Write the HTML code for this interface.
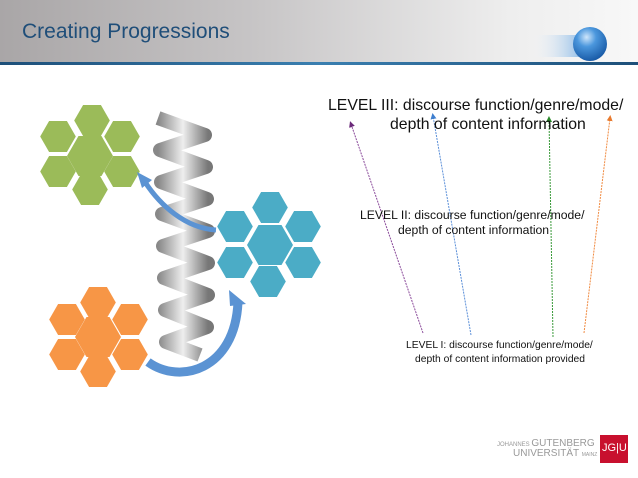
<!DOCTYPE html>
<html><head><meta charset="utf-8"><style>
body{margin:0;width:638px;height:478px;overflow:hidden;background:#fff;font-family:"Liberation Sans",sans-serif;position:relative}
.t{position:absolute;white-space:nowrap;color:#111}
</style></head><body>
<svg width="638" height="478" style="position:absolute;left:0;top:0">
<defs>
<linearGradient id="hd" x1="0" x2="1"><stop offset="0" stop-color="#a9a6a7"/><stop offset="0.4" stop-color="#c7c5c6"/><stop offset="0.8" stop-color="#eeeeee"/><stop offset="1" stop-color="#f8f8f8"/></linearGradient>
<linearGradient id="ln" x1="0" x2="1"><stop offset="0" stop-color="#1d4f79"/><stop offset="0.5" stop-color="#3a7fb0"/><stop offset="1" stop-color="#1d4f79"/></linearGradient>
<radialGradient id="sp" cx="0.4" cy="0.3" r="0.7"><stop offset="0" stop-color="#cfe6fb"/><stop offset="0.4" stop-color="#4b97dd"/><stop offset="1" stop-color="#1a5ca8"/></radialGradient>
<linearGradient id="bl" x1="0" x2="1"><stop offset="0" stop-color="#fff" stop-opacity="0"/><stop offset="1" stop-color="#4a95dd"/></linearGradient>
<linearGradient id="sg" x1="0" x2="1"><stop offset="0" stop-color="#888"/><stop offset="0.5" stop-color="#eee"/><stop offset="1" stop-color="#777"/></linearGradient>
<marker id="m1" markerWidth="6" markerHeight="6" refX="3" refY="3" orient="auto"><path d="M0,0L6,3L0,6z" fill="#6b2a7a"/></marker>
<marker id="m2" markerWidth="6" markerHeight="6" refX="3" refY="3" orient="auto"><path d="M0,0L6,3L0,6z" fill="#3f7fcf"/></marker>
<marker id="m3" markerWidth="6" markerHeight="6" refX="3" refY="3" orient="auto"><path d="M0,0L6,3L0,6z" fill="#2b8a2b"/></marker>
<marker id="m4" markerWidth="6" markerHeight="6" refX="3" refY="3" orient="auto"><path d="M0,0L6,3L0,6z" fill="#e87a2e"/></marker>
<symbol id="h" viewBox="-1 -0.87 2 1.74"><polygon points="-1,0 -0.5,-0.87 0.5,-0.87 1,0 0.5,0.87 -0.5,0.87"/></symbol>
</defs>
<rect x="0" y="0" width="638" height="62" fill="url(#hd)"/>
<rect x="0" y="62" width="638" height="3" fill="url(#ln)"/>
<rect x="530" y="35" width="60" height="22" fill="url(#bl)" opacity="0.8"/>
<circle cx="590" cy="44" r="17" fill="url(#sp)"/>
<path d="M158,118 L205,135 L160,150 L206,167 L161,182 L207,199 L162,214 L208,231 L163,246 L208,263 L164,278 L208,295 L165,310 L207,327 L166,342 L200,355" fill="none" stroke="url(#sg)" stroke-width="14" stroke-linejoin="round"/>
<g fill="#9bbb59">
<use href="#h" x="67" y="136" width="46" height="40"/>
<use href="#h" x="74" y="105" width="36" height="31"/><use href="#h" x="104" y="121" width="36" height="31"/><use href="#h" x="104" y="156" width="36" height="31"/><use href="#h" x="72" y="174" width="36" height="31"/><use href="#h" x="40" y="156" width="36" height="31"/><use href="#h" x="40" y="121" width="36" height="31"/>
</g>
<g fill="#4bacc6">
<use href="#h" x="247" y="225" width="46" height="40"/>
<use href="#h" x="252" y="192" width="36" height="31"/><use href="#h" x="285" y="211" width="36" height="31"/><use href="#h" x="285" y="247" width="36" height="31"/><use href="#h" x="250" y="266" width="36" height="31"/><use href="#h" x="217" y="247" width="36" height="31"/><use href="#h" x="217" y="211" width="36" height="31"/>
</g>
<g fill="#f79646">
<use href="#h" x="75" y="317" width="46" height="40"/>
<use href="#h" x="80" y="287" width="36" height="31"/><use href="#h" x="112" y="304" width="36" height="31"/><use href="#h" x="112" y="339" width="36" height="31"/><use href="#h" x="80" y="356" width="36" height="31"/><use href="#h" x="49" y="339" width="36" height="31"/><use href="#h" x="49" y="304" width="36" height="31"/>
</g>
<path d="M148,362 C180,385 235,370 238,302" fill="none" stroke="#5b93d3" stroke-width="9"/>
<path d="M229,290 L246,304 L230,306z" fill="#5b93d3"/>
<path d="M216,230 C185,228 160,205 145,182" fill="none" stroke="#5b93d3" stroke-width="5"/>
<path d="M137,172 L152,180 L142,188z" fill="#5b93d3"/>
<line x1="423" y1="333" x2="351" y2="124" stroke="#8a4a9a" stroke-width="1" stroke-dasharray="2,1" marker-end="url(#m1)"/>
<line x1="471" y1="335" x2="433" y2="116" stroke="#5b8fd8" stroke-width="1" stroke-dasharray="2,1" marker-end="url(#m2)"/>
<line x1="553" y1="337" x2="549" y2="119" stroke="#3a9a3a" stroke-width="1" stroke-dasharray="2,1" marker-end="url(#m3)"/>
<line x1="584" y1="333" x2="610" y2="118" stroke="#f08a40" stroke-width="1" stroke-dasharray="2,1" marker-end="url(#m4)"/>
<rect x="600" y="435" width="28" height="28" fill="#c8102e"/>
</svg>
<div class="t" style="left:22px;top:20px;font-size:21px;color:#1f4e79">Creating Progressions</div>
<div class="t" style="left:328px;top:97px;font-size:15.8px;">LEVEL III: discourse function/genre/mode/</div>
<div class="t" style="left:390px;top:116px;font-size:15.8px;">depth of content information</div>
<div class="t" style="left:360px;top:208px;font-size:12.2px;">LEVEL II: discourse function/genre/mode/</div>
<div class="t" style="left:398px;top:223px;font-size:12.2px;">depth of content information</div>
<div class="t" style="left:406px;top:340px;font-size:10.3px;">LEVEL I: discourse function/genre/mode/</div>
<div class="t" style="left:415px;top:354px;font-size:10.3px;">depth of content information provided</div>
<div class="t" style="left:497px;top:438px;font-size:6px;color:#999">JOHANNES <span style="font-size:10px">GUTENBERG</span></div>
<div class="t" style="left:513px;top:448px;font-size:10px;color:#999">UNIVERSITÄT <span style="font-size:5px">MAINZ</span></div>
<div class="t" style="left:602px;top:442px;font-size:11px;color:#fff">JG|U</div>
</body></html>
